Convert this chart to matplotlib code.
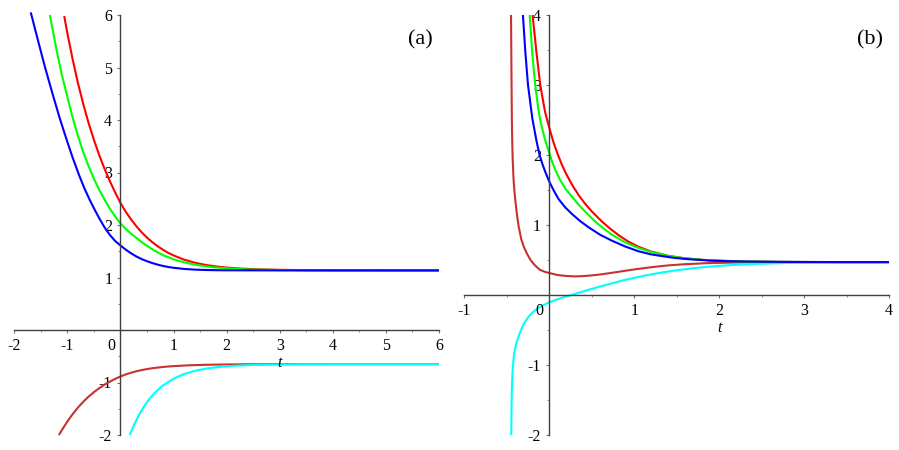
import matplotlib
matplotlib.use("Agg")
import matplotlib.pyplot as plt
from matplotlib.ticker import MultipleLocator

plt.rcParams['font.family'] = ['Liberation Serif', 'DejaVu Serif']
plt.rcParams['axes.unicode_minus'] = False

# ---------------- Panel (a) data ----------------
a_xticks = [-2, -1, 1, 2, 3, 4, 5, 6]
a_xticklabels = ['-2', '-1', '1', '2', '3', '4', '5', '6']
a_yticks = [-2, -1, 1, 2, 3, 4, 5, 6]
a_yticklabels = ['-2', '-1', '1', '2', '3', '4', '5', '6']

a_red_t = [-1.06, -1.0, -0.9, -0.8, -0.7, -0.6, -0.5, -0.4, -0.3, -0.2, -0.1, 0, 0.1, 0.2, 0.3, 0.4, 0.5,
           0.6, 0.7, 0.8, 0.9, 1.0, 1.2, 1.4, 1.6, 1.8, 2.0, 2.3, 2.6, 3.0, 3.5, 4, 5, 6]
a_red_y = [5.98, 5.65, 5.15, 4.70, 4.30, 3.94, 3.62, 3.33, 3.07, 2.835, 2.62, 2.42, 2.25, 2.105, 1.975,
           1.86, 1.76, 1.672, 1.595, 1.528, 1.47, 1.42, 1.34, 1.282, 1.24, 1.21, 1.188, 1.168, 1.156,
           1.146, 1.14, 1.137, 1.135, 1.135]

a_green_t = [-1.33, -1.2, -1.1, -1.0, -0.9, -0.8, -0.7, -0.6, -0.5, -0.4, -0.3, -0.2, -0.1, 0, 0.1, 0.2,
             0.3, 0.4, 0.5, 0.6, 0.7, 0.8, 1.0, 1.2, 1.4, 1.6, 1.8, 2.0, 2.4, 3.0, 3.5, 4, 6]
a_green_y = [6.0, 5.31, 4.84, 4.44, 4.04, 3.695, 3.38, 3.12, 2.88, 2.67, 2.485, 2.31, 2.165, 2.03, 1.925,
             1.833, 1.754, 1.673, 1.603, 1.538, 1.478, 1.427, 1.347, 1.289, 1.246, 1.213, 1.19, 1.174,
             1.153, 1.142, 1.137, 1.135, 1.135]

a_blue_t = [-1.69, -1.55, -1.42, -1.28, -1.14, -1.0, -0.9, -0.78, -0.68, -0.58, -0.48, -0.39, -0.3, -0.2,
            -0.1, 0, 0.1, 0.2, 0.3, 0.4, 0.5, 0.6, 0.7, 0.8, 0.9, 1.0, 1.2, 1.4, 1.6, 1.8, 2.0, 3, 6]
a_blue_y = [6.05, 5.50, 5.0, 4.50, 4.02, 3.58, 3.28, 2.95, 2.70, 2.48, 2.28, 2.11, 1.955, 1.81, 1.695,
            1.61, 1.53, 1.46, 1.40, 1.35, 1.31, 1.275, 1.245, 1.22, 1.20, 1.185, 1.163, 1.15, 1.143,
            1.139, 1.137, 1.135, 1.135]

a_dred_t = [-1.16, -1.1, -1.0, -0.9, -0.8, -0.7, -0.6, -0.5, -0.4, -0.3, -0.2, -0.1, 0, 0.1, 0.2, 0.3,
            0.4, 0.5, 0.6, 0.8, 1.0, 1.3, 1.6, 2.0, 2.5, 3, 6]
a_dred_y = [-2.0, -1.90, -1.742, -1.601, -1.476, -1.366, -1.269, -1.183, -1.108, -1.041, -0.983, -0.931,
            -0.885, -0.846, -0.813, -0.786, -0.763, -0.744, -0.728, -0.704, -0.688, -0.672, -0.663,
            -0.656, -0.652, -0.65, -0.65]

a_cyan_t = [0.175, 0.25, 0.35, 0.45, 0.55, 0.65, 0.8, 1.0, 1.2, 1.4, 1.6, 1.8, 2.0, 2.3, 2.6, 3.0, 3.5, 4, 6]
a_cyan_y = [-2.0, -1.819, -1.615, -1.446, -1.307, -1.192, -1.057, -0.927, -0.839, -0.778, -0.7375, -0.71,
            -0.691, -0.673, -0.663, -0.656, -0.652, -0.65, -0.65]

# ---------------- Panel (b) data ----------------
b_xticks = [-1, 1, 2, 3, 4]
b_xticklabels = ['-1', '1', '2', '3', '4']
b_yticks = [-2, -1, 1, 2, 3, 4]
b_yticklabels = ['-2', '-1', '1', '2', '3', '4']

b_red_t = [-0.196, -0.15, -0.106, -0.05, 0, 0.05, 0.1, 0.15, 0.2, 0.27, 0.35, 0.42, 0.5, 0.62, 0.72, 0.82,
           0.93, 1.05, 1.2, 1.4, 1.6, 1.8, 2.0, 2.3, 2.7, 3.0, 3.5, 4.0]
b_red_y = [4.0, 3.46, 3.0, 2.62, 2.39, 2.18, 2.01, 1.857, 1.729, 1.572, 1.42, 1.307, 1.195, 1.05, 0.945,
           0.851, 0.764, 0.689, 0.621, 0.56, 0.524, 0.503, 0.49, 0.479, 0.4735, 0.472, 0.47, 0.47]

b_green_t = [-0.23, -0.2, -0.165, -0.13, -0.1, -0.05, 0, 0.035, 0.07, 0.13, 0.19, 0.27, 0.35, 0.44, 0.54,
             0.64, 0.74, 0.88, 1.05, 1.2, 1.4, 1.6, 1.8, 2.0, 2.3, 2.7, 3.0, 3.5, 4.0]
b_green_y = [4.0, 3.45, 3.0, 2.67, 2.46, 2.22, 2.03, 1.90, 1.79, 1.64, 1.52, 1.40, 1.285, 1.17, 1.05,
             0.95, 0.86, 0.76, 0.672, 0.615, 0.557, 0.523, 0.502, 0.49, 0.479, 0.4735, 0.472, 0.47, 0.47]

b_blue_t = [-0.31, -0.28, -0.25, -0.2, -0.15, -0.114, -0.08, -0.05, 0, 0.05, 0.11, 0.19, 0.27, 0.36, 0.46,
            0.6, 0.74, 0.9, 1.05, 1.2, 1.44, 1.6, 1.91, 2.3, 2.7, 3.0, 3.5, 4.0]
b_blue_y = [4.0, 3.45, 3.0, 2.53, 2.2, 2.0, 1.87, 1.77, 1.62, 1.50, 1.37, 1.25, 1.155, 1.06, 0.97, 0.86,
            0.775, 0.69, 0.625, 0.58, 0.535, 0.515, 0.49, 0.478, 0.473, 0.471, 0.47, 0.47]

b_dred_t = [-0.45, -0.445, -0.44, -0.435, -0.43, -0.42, -0.41, -0.40, -0.38, -0.36, -0.33, -0.30, -0.26,
            -0.22, -0.17, -0.11, -0.05, 0, 0.1, 0.2, 0.3, 0.4, 0.5, 0.6, 0.7, 0.85, 1.0, 1.2, 1.4, 1.6,
            1.86, 2.2, 2.6, 3.0, 4.0]
b_dred_y = [4.0, 3.2, 2.5, 2.15, 1.93, 1.65, 1.49, 1.36, 1.15, 0.98, 0.80, 0.69, 0.585, 0.50, 0.425, 0.36,
            0.33, 0.314, 0.285, 0.272, 0.266, 0.27, 0.28, 0.293, 0.31, 0.338, 0.365, 0.397, 0.423, 0.44,
            0.455, 0.464, 0.468, 0.47, 0.47]

b_cyan_t = [-0.447, -0.444, -0.44, -0.435, -0.43, -0.415, -0.39, -0.36, -0.33, -0.30, -0.24, -0.18, -0.12,
            -0.06, 0, 0.08, 0.16, 0.26, 0.37, 0.48, 0.6, 0.75, 0.87, 1.0, 1.15, 1.27, 1.45, 1.66, 1.85,
            2.04, 2.4, 2.75, 3.2, 4.0]
b_cyan_y = [-2.0, -1.6, -1.35, -1.18, -1.05, -0.85, -0.70, -0.59, -0.495, -0.41, -0.305, -0.232, -0.18,
            -0.14, -0.105, -0.068, -0.035, 0.0, 0.04, 0.08, 0.122, 0.17, 0.21, 0.245, 0.283, 0.31, 0.345,
            0.378, 0.402, 0.42, 0.443, 0.456, 0.465, 0.47]

C_RED = '#FF0000'
C_GREEN = '#00FF00'
C_BLUE = '#0000FF'
C_DRED = '#C83232'
C_CYAN = '#00FFFF'
AX_COL = '#404040'

fig = plt.figure(figsize=(8.99, 4.5), dpi=100)
ax_a = fig.add_axes([14.3 / 899, 15 / 450, 424.7 / 899, 420 / 450])
ax_b = fig.add_axes([464.3 / 899, 15 / 450, 424.7 / 899, 420 / 450])


def setup(ax, xlim, ylim, xt, xtl, yt, ytl, tlabel_x, panel):
    ax.set_xlim(*xlim)
    ax.set_ylim(*ylim)
    ax.patch.set_visible(False)
    for s in ['top', 'right']:
        ax.spines[s].set_visible(False)
    for s in ['left', 'bottom']:
        ax.spines[s].set_position(('data', 0))
        ax.spines[s].set_color(AX_COL)
        ax.spines[s].set_linewidth(1.0)
    ax.set_xticks(xt)
    ax.set_xticklabels(xtl)
    ax.set_yticks(yt)
    ax.set_yticklabels(ytl)
    ax.xaxis.set_minor_locator(MultipleLocator(0.5))
    ax.yaxis.set_minor_locator(MultipleLocator(0.5))
    ax.tick_params(which='major', direction='out', length=2.5, width=0.8,
                   color='#707070', labelsize=11.5, pad=3.5, labelcolor='black')
    ax.tick_params(which='minor', direction='out', length=1.6, width=0.7,
                   color='#909090')
    ax.annotate('0', xy=(0, 0), xytext=(-4, -6), textcoords='offset points',
                ha='right', va='top', fontsize=11.5)
    ax.annotate('t', xy=(tlabel_x, 0), xytext=(0, -23.5), textcoords='offset points',
                ha='center', va='center', fontsize=11.5, style='italic')
    ax.text(0.955, 0.94, panel, transform=ax.transAxes, ha='center', va='center',
            fontsize=16)


setup(ax_a, (-2, 6), (-2, 6), a_xticks, a_xticklabels, a_yticks, a_yticklabels, 3, '(a)')
setup(ax_b, (-1, 4), (-2, 4), b_xticks, b_xticklabels, b_yticks, b_yticklabels, 2, '(b)')

lw = 1.5
for ax, series in [
    (ax_a, [(a_dred_t, a_dred_y, C_DRED), (a_cyan_t, a_cyan_y, C_CYAN),
            (a_red_t, a_red_y, C_RED), (a_green_t, a_green_y, C_GREEN),
            (a_blue_t, a_blue_y, C_BLUE)]),
    (ax_b, [(b_dred_t, b_dred_y, C_DRED), (b_cyan_t, b_cyan_y, C_CYAN),
            (b_red_t, b_red_y, C_RED), (b_green_t, b_green_y, C_GREEN),
            (b_blue_t, b_blue_y, C_BLUE)]),
]:
    for t, y, c in series:
        ax.plot(t, y, color=c, lw=lw, clip_on=False, solid_joinstyle='round',
                solid_capstyle='butt')

fig.savefig('out.png', dpi=100)
